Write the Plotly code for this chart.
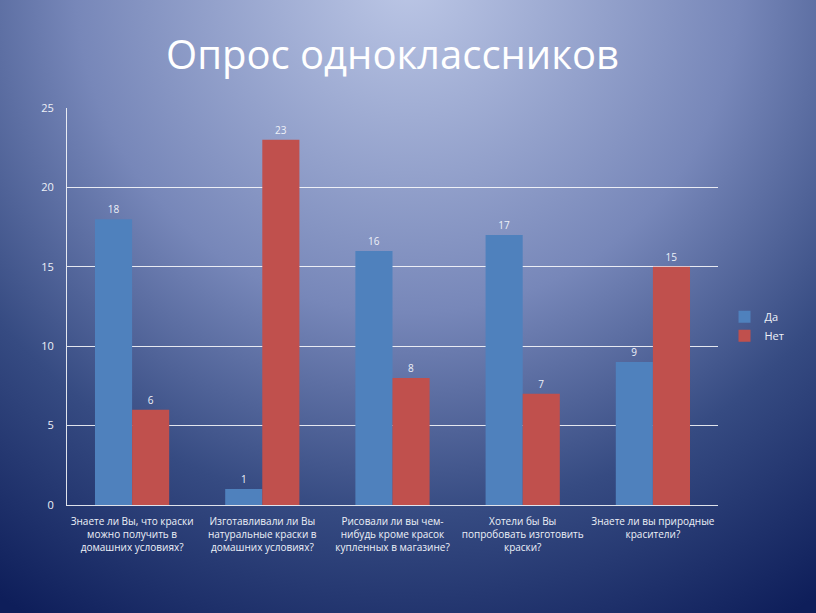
import plotly.graph_objs as go
import urllib.parse

categories = [
    "Знаете ли Вы, что краски<br>можно получить в<br>домашних условиях?",
    "Изготавливали ли Вы<br>натуральные краски в<br>домашних условиях?",
    "Рисовали ли вы чем-<br>нибудь кроме красок<br>купленных в магазине?",
    "Хотели бы Вы<br>попробовать изготовить<br>краски?",
    "Знаете ли вы природные<br>красители?",
]
yes_values = [18, 1, 16, 17, 9]
no_values = [6, 23, 8, 7, 15]
y_ticks = [0, 5, 10, 15, 20, 25]

W, H = 816, 613
ML, MR, MT, MB = 67, 98, 108, 108
PW, PH = W - ML - MR, H - MT - MB

# radial gradient background (slide style)
svg = (
    f'<svg xmlns="http://www.w3.org/2000/svg" width="{W}" height="{H}" '
    f'viewBox="0 0 {W} {H}" preserveAspectRatio="none">'
    '<defs><radialGradient id="g" gradientUnits="userSpaceOnUse" '
    'cx="408" cy="-20" r="740">'
    '<stop offset="0" stop-color="#bcc7e6"/>'
    '<stop offset="0.45" stop-color="#7787b9"/>'
    '<stop offset="0.72" stop-color="#364b82"/>'
    '<stop offset="1" stop-color="#0e1e5a"/>'
    '</radialGradient></defs>'
    f'<rect width="{W}" height="{H}" fill="url(#g)"/></svg>'
)
bg_src = "data:image/svg+xml;charset=utf-8," + urllib.parse.quote(svg)

font = "Open Sans, Noto Sans, sans-serif"
text_col = "#eef1f8"

fig = go.Figure()

fig.add_trace(go.Bar(
    x=categories, y=yes_values, name="Да",
    marker=dict(color="#4f81bd", line=dict(width=0)),
    text=yes_values, textposition="outside",
    textfont=dict(color=text_col, size=10, family=font),
    cliponaxis=False,
))
fig.add_trace(go.Bar(
    x=categories, y=no_values, name="Нет",
    marker=dict(color="#c0504d", line=dict(width=0)),
    text=no_values, textposition="outside",
    textfont=dict(color=text_col, size=10, family=font),
    cliponaxis=False,
))

fig.update_layout(
    width=W, height=H,
    margin=dict(l=ML, r=MR, t=MT, b=MB),
    paper_bgcolor="#2a3f7c",
    plot_bgcolor="rgba(0,0,0,0)",
    barmode="group",
    bargap=0.43,
    bargroupgap=0,
    title=dict(
        text="Опрос одноклассников",
        x=0.5, xanchor="center", xref="paper",
        y=1 - 55 / H, yanchor="middle", yref="container",
        font=dict(family=font, size=40, color="white"),
    ),
    images=[dict(
        source=bg_src, xref="paper", yref="paper",
        x=-ML / PW, y=1 + MT / PH, sizex=W / PW, sizey=H / PH,
        xanchor="left", yanchor="top", sizing="stretch", layer="below",
    )],
    legend=dict(
        x=1.01, y=0.45, xanchor="left", yanchor="middle",
        font=dict(family=font, size=11, color=text_col),
        bgcolor="rgba(0,0,0,0)", itemwidth=30, tracegroupgap=4,
    ),
    font=dict(family=font, color=text_col),
)

fig.update_yaxes(
    range=[0, 25], tickvals=y_ticks,
    showgrid=True, gridcolor="rgba(255,255,255,0.85)", gridwidth=1,
    showline=True, linecolor="rgba(255,255,255,0.85)", linewidth=1,
    zeroline=False, ticks="", ticklabelstandoff=10,
    tickfont=dict(family=font, size=11, color=text_col),
)
fig.update_xaxes(
    showline=True, linecolor="rgba(255,255,255,0.85)", linewidth=1,
    ticks="", tickangle=0, ticklabelstandoff=7,
    tickfont=dict(family=font, size=10, color=text_col),
)

fig.write_html(
    "out.html",
    config={"displayModeBar": False},
    post_script="document.body.style.margin='0';",
)
